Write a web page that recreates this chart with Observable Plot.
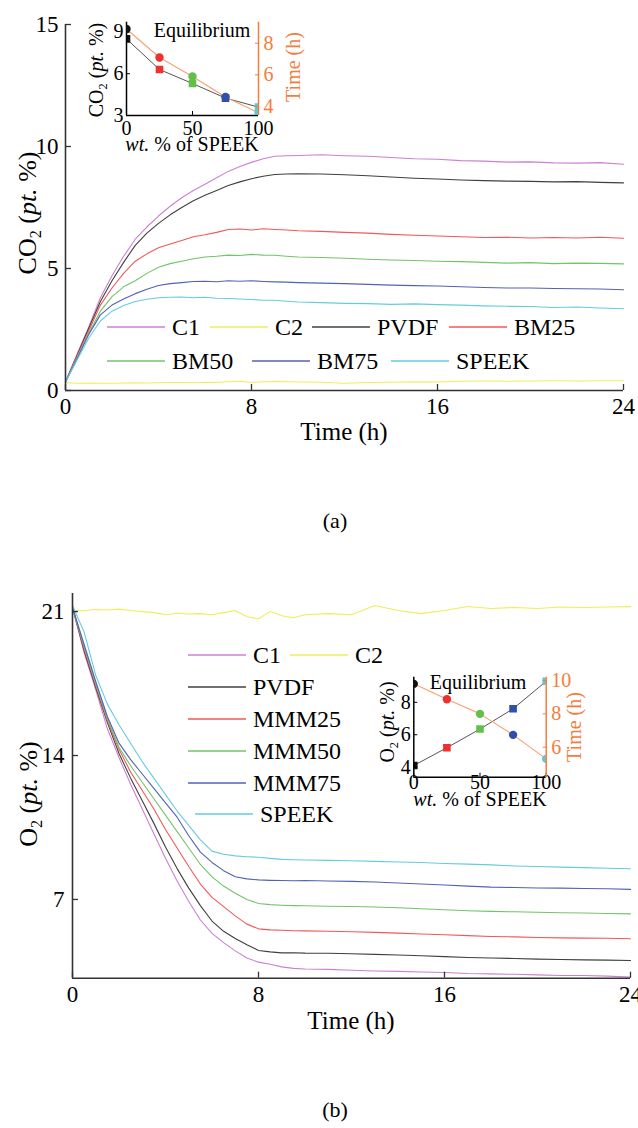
<!DOCTYPE html>
<html>
<head>
<meta charset="utf-8">
<script src="https://cdn.jsdelivr.net/npm/d3@7"></script>
<script src="https://cdn.jsdelivr.net/npm/@observablehq/plot@0.6"></script>
<style>
  html, body { margin: 0; padding: 0; background: #fff; overflow: hidden; }
  #root { position: relative; width: 638px; height: 1128px; font-family: "Liberation Serif", "Times New Roman", serif; color: #000; }
  .abs { position: absolute; white-space: nowrap; line-height: 1; }
  .ctr { transform: translate(-50%, -50%); }
  .rot { transform: translate(-50%, -50%) rotate(-90deg); }
  sub { font-size: 0.62em; vertical-align: -0.3em; line-height: 0; }
</style>
</head>
<body>
<div id="root"></div>
<script>
// ---------------- DATA ----------------
const timeH = [0,0.5,1,1.5,2,2.5,3,3.5,4,4.5,5,5.5,6,6.5,7,7.5,8,8.5,9,9.5,10,
               11,12,13,14,15,16,17,18,19,20,21,22,23,24];

const seriesA = ["C1","C2","PVDF","BM25","BM50","BM75","SPEEK"];
const seriesB = ["C1","C2","PVDF","MMM25","MMM50","MMM75","SPEEK"];
const seriesColors = ["#cc80d2","#eeee58","#404040","#f25858","#72c46a","#5262b8","#66cbe0"];

// Panel (a): CO2 (pt. %)
const co2C1 = [0.35,1.5,2.6,3.8,4.7,5.5,6.2,6.7,7.15,7.55,7.9,8.2,8.45,8.72,8.98,9.18,9.35,9.5,9.6,9.62,9.63,
               9.66,9.62,9.6,9.55,9.5,9.48,9.42,9.4,9.36,9.37,9.33,9.32,9.34,9.27];
const co2C2 = [0.32,0.3,0.31,0.3,0.3,0.31,0.32,0.31,0.32,0.33,0.33,0.32,0.34,0.33,0.36,0.38,0.33,0.36,0.37,0.36,0.35,
               0.34,0.3,0.33,0.34,0.36,0.35,0.38,0.39,0.38,0.39,0.4,0.39,0.4,0.4];
const co2PVDF = [0.35,1.45,2.55,3.65,4.5,5.25,5.95,6.45,6.85,7.2,7.5,7.78,8.0,8.2,8.4,8.55,8.68,8.78,8.85,8.87,8.88,
                 8.87,8.84,8.8,8.75,8.7,8.67,8.63,8.6,8.58,8.57,8.55,8.56,8.53,8.51];
const co2BM25 = [0.35,1.4,2.45,3.5,4.2,4.8,5.3,5.6,5.85,6.0,6.15,6.3,6.38,6.48,6.6,6.62,6.58,6.63,6.6,6.58,6.55,
                 6.52,6.48,6.45,6.4,6.36,6.33,6.3,6.27,6.28,6.25,6.27,6.25,6.28,6.24];
const co2BM50 = [0.35,1.35,2.35,3.25,3.85,4.25,4.5,4.8,5.05,5.2,5.3,5.4,5.47,5.5,5.55,5.53,5.58,5.55,5.54,5.5,5.47,
                 5.45,5.42,5.38,5.35,5.33,5.3,5.28,5.25,5.22,5.24,5.2,5.22,5.21,5.19];
const co2BM75 = [0.35,1.3,2.3,3.1,3.5,3.75,3.97,4.15,4.3,4.38,4.42,4.47,4.48,4.46,4.5,4.48,4.5,4.47,4.45,4.44,4.42,
                 4.4,4.38,4.35,4.32,4.3,4.28,4.25,4.22,4.2,4.2,4.18,4.17,4.16,4.13];
const co2SPEEK = [0.35,1.25,2.15,2.85,3.25,3.48,3.65,3.74,3.8,3.82,3.83,3.8,3.82,3.78,3.77,3.75,3.73,3.7,3.7,3.66,3.63,
                  3.6,3.57,3.56,3.53,3.55,3.52,3.5,3.47,3.45,3.44,3.4,3.42,3.38,3.35];

// Panel (b): O2 (pt. %)
const o2C1 = [21.2,19.0,17.2,15.3,13.9,12.6,11.4,10.2,9.0,7.9,6.9,6.0,5.35,4.9,4.5,4.15,3.95,3.85,3.72,3.65,3.62,
              3.6,3.56,3.52,3.5,3.47,3.45,3.4,3.38,3.36,3.33,3.3,3.3,3.27,3.22];
const o2C2 = [21.05,21.05,21.1,21.08,21.12,21.05,21.0,20.95,20.85,20.92,20.88,20.9,20.85,20.95,21.05,20.75,20.65,21.0,20.8,20.7,20.85,
              20.9,20.85,21.3,21.05,20.9,21.05,21.25,21.15,21.2,21.15,21.22,21.2,21.22,21.24];
const o2PVDF = [21.2,19.1,17.3,15.6,14.1,12.9,11.8,10.7,9.55,8.5,7.55,6.7,5.95,5.45,5.1,4.8,4.52,4.45,4.4,4.41,4.39,
                4.38,4.36,4.33,4.3,4.26,4.22,4.18,4.15,4.13,4.1,4.08,4.06,4.05,4.03];
const o2MMM25 = [21.2,19.2,17.4,15.7,14.3,13.2,12.3,11.4,10.4,9.5,8.6,7.75,7.1,6.65,6.2,5.8,5.57,5.52,5.5,5.48,5.47,
                 5.45,5.43,5.4,5.36,5.32,5.28,5.24,5.2,5.18,5.15,5.13,5.12,5.11,5.09];
const o2MMM50 = [21.2,19.3,17.5,15.8,14.4,13.5,12.7,11.9,11.1,10.3,9.5,8.7,8.1,7.65,7.3,7.0,6.8,6.75,6.72,6.7,6.69,
                 6.67,6.66,6.63,6.6,6.55,6.5,6.45,6.42,6.4,6.38,6.35,6.34,6.32,6.3];
const o2MMM75 = [21.2,19.4,17.6,15.9,14.6,13.8,13.1,12.4,11.7,11.0,10.1,9.3,8.8,8.4,8.1,8.0,7.95,7.93,7.92,7.91,7.92,
                 7.9,7.88,7.85,7.8,7.75,7.7,7.65,7.6,7.58,7.56,7.55,7.53,7.52,7.49];
const o2SPEEK = [21.3,20.0,17.9,16.5,15.5,14.6,13.7,12.9,12.1,11.3,10.6,9.9,9.35,9.2,9.12,9.08,9.05,9.0,8.95,8.93,8.92,
                 8.9,8.88,8.85,8.82,8.8,8.75,8.72,8.68,8.63,8.6,8.57,8.55,8.52,8.49];

// Axes / ticks
const xDomain = [0, 24];
const xTicks = [0, 8, 16, 24];
const yDomainA = [0, 15];
const yTicksA = [0, 5, 10, 15];
const yDomainB = [3.17, 21.88];
const yTicksB = [7, 14, 21];

// Insets: equilibrium vs wt.% of SPEEK
const speekWt = [0, 25, 50, 75, 100];
const markerColors = ["#111111","#ee3030","#62c04a","#2f4fa8","#58c8da"];
const co2Eq = [8.5, 6.3, 5.3, 4.25, 3.6];
const co2EqTime = [8.9, 7.1, 5.9, 4.6, 3.6];
const o2Eq = [4.1, 5.2, 6.35, 7.6, 9.3];
const o2EqTime = [9.8, 8.88, 8.0, 6.74, 5.3];
const insetXDomain = [0, 100];
const insetXTicks = [0, 50, 100];
const insetAYDomain = [3, 9.7];
const insetAYTicks = [3, 6, 9];
const insetATDomain = [3.43, 9.33];
const insetATTicks = [4, 6, 8];
const insetBYDomain = [3.38, 9.55];
const insetBYTicks = [4, 6, 8];
const insetBTDomain = [4.2, 10.2];
const insetBTTicks = [6, 8, 10];

// ---------------- DRAW ----------------
const FONT = "Liberation Serif";
const AXIS = "#333333";
const ORANGE = "#f47c3c";
const ORANGE_LINE = "#f5a072";
const root = document.getElementById("root");

function place(svg, left, top) {
  svg.style.position = "absolute";
  svg.style.left = left + "px";
  svg.style.top = top + "px";
  root.appendChild(svg);
}
function text(html, x, y, size, cls = "ctr", color = "#000") {
  const d = document.createElement("div");
  d.className = "abs " + cls;
  d.style.left = x + "px";
  d.style.top = y + "px";
  d.style.fontSize = size + "px";
  d.style.color = color;
  d.innerHTML = html;
  root.appendChild(d);
}
function longData(names, arrays) {
  return names.flatMap((name, i) => timeH.map((t, j) => ({series: name, t, v: arrays[i][j]})));
}
const baseStyle = {fontFamily: FONT, color: "#000", background: "transparent", overflow: "visible"};

function mainChart(names, arrays, yDomain, yTicks, geom) {
  return Plot.plot({
    width: 638, height: geom.height,
    marginLeft: geom.ml, marginRight: geom.mr, marginTop: geom.mt, marginBottom: geom.mb,
    style: {...baseStyle, fontSize: "23px"},
    x: {domain: xDomain},
    y: {domain: yDomain},
    color: {domain: names, range: seriesColors},
    marks: [
      Plot.line(longData(names, arrays), {x: "t", y: "v", z: "series", stroke: "series", strokeWidth: 1.1}),
      Plot.ruleX([xDomain[0]], {stroke: AXIS, strokeWidth: 1.6}),
      Plot.ruleY([yDomain[0]], {stroke: AXIS, strokeWidth: 1.6}),
      Plot.axisX(xTicks, {tickSize: -6, tickPadding: geom.xpad, fontSize: 23, fontFamily: FONT, stroke: AXIS, fill: "#000", label: null, strokeWidth: 1.3}),
      Plot.axisY(yTicks, {tickSize: -6, tickPadding: geom.ypad, fontSize: 23, fontFamily: FONT, stroke: AXIS, fill: "#000", label: null, strokeWidth: 1.3})
    ]
  });
}

function insetCharts(geom, yDomain, yTicks, yVals, tDomain, tTicks, tVals) {
  const data = speekWt.map((w, i) => ({w, y: yVals[i], t: tVals[i], c: markerColors[i]}));
  const common = {
    width: geom.width, height: geom.height,
    marginLeft: geom.ml, marginRight: geom.mr, marginTop: geom.mt, marginBottom: geom.mb,
    style: {...baseStyle, fontSize: "20px"}
  };
  const left = Plot.plot({
    ...common,
    x: {domain: insetXDomain},
    y: {domain: yDomain},
    color: {type: "identity"},
    marks: [
      Plot.line(data, {x: "w", y: "y", stroke: "#555", strokeWidth: 1}),
      Plot.dot(data, {x: "w", y: "y", symbol: "square", fill: "c", r: 4.3, clip: true}),
      Plot.ruleX([insetXDomain[0]], {stroke: "#000", strokeWidth: 1.5}),
      Plot.ruleY([yDomain[0]], {stroke: "#000", strokeWidth: 1.5}),
      Plot.axisX(insetXTicks, {tickSize: -4, tickPadding: geom.xpad, fontSize: 20, fontFamily: FONT, stroke: "#000", fill: "#000", label: null}),
      Plot.axisY(yTicks, {tickSize: -4, tickPadding: 7, fontSize: 20, fontFamily: FONT, stroke: "#000", fill: "#000", label: null})
    ]
  });
  const right = Plot.plot({
    ...common,
    x: {domain: insetXDomain, axis: null},
    y: {domain: tDomain},
    color: {type: "identity"},
    marks: [
      Plot.line(data, {x: "w", y: "t", stroke: ORANGE_LINE, strokeWidth: 1.1}),
      Plot.dot(data, {x: "w", y: "t", fill: "c", r: 4.2, clip: true}),
      Plot.ruleX([insetXDomain[1]], {stroke: ORANGE, strokeWidth: 1.5}),
      Plot.axisY(tTicks, {anchor: "right", tickSize: -4, tickPadding: 9, fontSize: 20, fontFamily: FONT, stroke: ORANGE, fill: ORANGE, label: null})
    ]
  });
  return [left, right];
}

// Panel (a)
const chartA = mainChart(seriesA, [co2C1, co2C2, co2PVDF, co2BM25, co2BM50, co2BM75, co2SPEEK],
  yDomainA, yTicksA, {height: 460, ml: 65, mr: 15, mt: 24, mb: 70, xpad: 13, ypad: 13});
place(chartA, 0, 0);

// Panel (b)
const chartB = mainChart(seriesB, [o2C1, o2C2, o2PVDF, o2MMM25, o2MMM50, o2MMM75, o2SPEEK],
  yDomainB, yTicksB, {height: 480, ml: 72, mr: 8, mt: 33, mb: 62.3, xpad: 13, ypad: 14});
place(chartB, 0, 560);

// Inset (a)
const [iaL, iaR] = insetCharts({width: 250, height: 150, ml: 50, mr: 68, mt: 21.7, mb: 35, xpad: 9},
  insetAYDomain, insetAYTicks, co2Eq, insetATDomain, insetATTicks, co2EqTime);
place(iaL, 76, 0); place(iaR, 76, 0);

// Inset (b)
const [ibL, ibR] = insetCharts({width: 260, height: 180, ml: 63.3, mr: 64.3, mt: 36.7, mb: 43.3, xpad: 2},
  insetBYDomain, insetBYTicks, o2Eq, insetBTDomain, insetBTTicks, o2EqTime);
place(ibL, 350, 640); place(ibR, 350, 640);

// Axis titles and captions
text("CO<sub>2</sub> (<i>pt.</i> %)", 28, 213, 26, "rot");
text("Time (h)", 344, 431, 25);
text("(a)", 335, 521, 22);
text("O<sub>2</sub> (<i>pt.</i> %)", 29, 794, 26, "rot");
text("Time (h)", 351, 1020, 25);
text("(b)", 335, 1110, 22);

// Inset texts
text("Equilibrium", 202, 30, 20);
text("<i>wt.</i> % of SPEEK", 192, 144, 20);
text("CO<sub>2</sub> (<i>pt.</i> %)", 96, 70, 20, "rot");
text("Time (h)", 293, 67, 20, "rot", ORANGE);
text("Equilibrium", 478, 682, 20);
text("<i>wt.</i> % of SPEEK", 480, 799, 20);
text("O<sub>2</sub> (<i>pt.</i> %)", 387, 722, 20, "rot");
text("Time (h)", 574, 727, 20, "rot", ORANGE);

// Legends
function legendItem(name, color, x, y, len) {
  const d = document.createElement("div");
  d.className = "abs";
  d.style.left = x + "px";
  d.style.top = (y - 12) + "px";
  d.style.fontSize = "24px";
  d.style.display = "flex";
  d.style.alignItems = "center";
  d.style.height = "24px";
  d.innerHTML = `<svg width="${len}" height="6" style="margin-right:7px;display:block"><line x1="0" x2="${len}" y1="3" y2="3" stroke="${color}" stroke-width="1.4"/></svg><span>${name}</span>`;
  root.appendChild(d);
}
const legendPosA = [[107,327],[210,327],[312,327],[449,327],[107,361],[252,361],[391,361]];
seriesA.forEach((s, i) => legendItem(s, seriesColors[i], legendPosA[i][0], legendPosA[i][1], 58));
const legendPosB = [[188,655],[290,655],[188,687],[188,719],[188,751],[188,783],[195,814]];
seriesB.forEach((s, i) => legendItem(s, seriesColors[i], legendPosB[i][0], legendPosB[i][1], 58));
</script>
</body>
</html>
